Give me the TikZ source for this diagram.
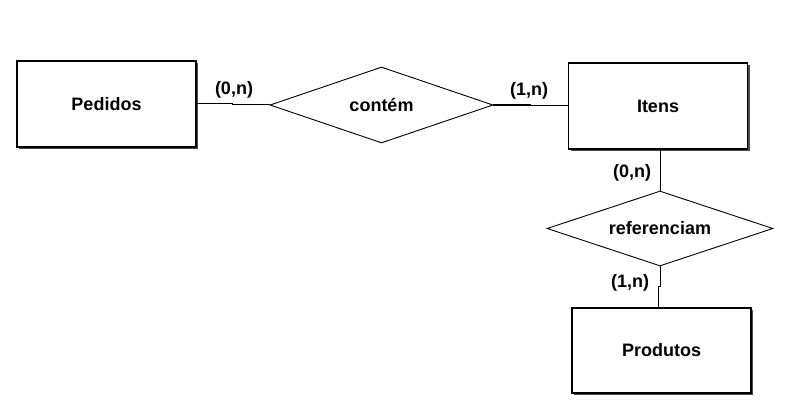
\documentclass[tikz,border=0pt]{standalone}
\usepackage{fontspec}
\setmainfont{Liberation Sans}
\usetikzlibrary{shapes.geometric,shadows}
\begin{document}
\begin{tikzpicture}[x=1pt,y=-1pt,
  txt/.style={font=\fontsize{18}{21}\selectfont\bfseries},
  entity/.style={draw=black,line width=1.2pt,fill=white,rectangle,inner sep=0pt,
    minimum width=179pt,minimum height=86pt,txt,
    drop shadow={shadow xshift=2pt,shadow yshift=-2pt,fill=black!70,opacity=1}},
  relation/.style={draw=black,line width=0.9pt,fill=white,diamond,aspect=3,inner sep=0pt,txt},
  card/.style={txt,inner sep=0pt},
  conn/.style={line width=1pt,draw=black}]
\useasboundingbox[fill=white] (0,0) rectangle (793,417);
% entities
\node[entity] (pedidos) at (106.5,104) {Pedidos};
\node[entity] (itens) at (658,106) {Itens};
\node[entity,minimum height=85pt] (produtos) at (661.5,350.5) {Produtos};
% relationships
\node[relation,minimum width=223pt,minimum height=76pt] (contem) at (381.5,105) {contém};
\node[relation,minimum width=226pt,minimum height=75pt] (refer) at (660,228.5) {referenciam};
% connectors
\draw[conn] (pedidos.east) -- (232,104) |- (contem.west);
\draw[conn,line width=1.8pt] (contem.east) -- (531,105);
\draw[conn] (531,106) -- (itens.west |- 0,106);
\draw[conn] (itens.south -| 660,0) -- (refer.north);
\draw[conn] (refer.south) -- (660,286) -- (658.5,286) -- (produtos.north -| 658.5,0);
% cardinalities
\node[card] (c1) at (234,89.5) {(0,n)};
\node[card] (c2) at (529,90.5) {(1,n)};
\node[card] (c3) at (632,172.5) {(0,n)};
\node[card] (c4) at (630,283) {(1,n)};
\end{tikzpicture}
\end{document}
